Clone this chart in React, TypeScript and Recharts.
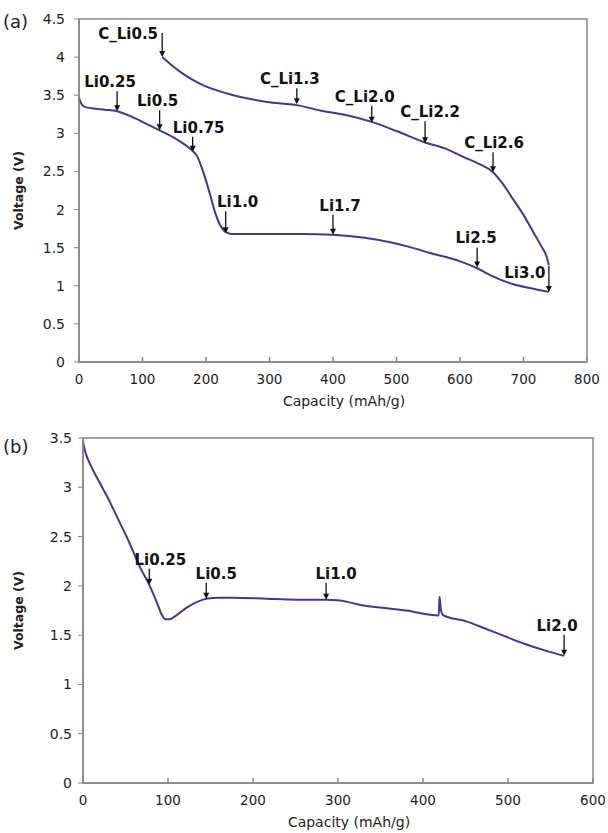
import { LineChart, Line, XAxis, YAxis, ReferenceDot, ReferenceArea } from 'recharts'

// (a) discharge curve
const capA1 = [0, 3, 8, 20, 40, 60, 80, 100, 127, 150, 170, 180, 186, 192, 200, 207, 214, 222, 230, 240, 300, 350, 400, 450, 490, 520, 553, 600, 627, 650, 684, 710, 740]
const voltA1 = [3.47, 3.4, 3.35, 3.33, 3.31, 3.29, 3.23, 3.15, 3.04, 2.94, 2.83, 2.76, 2.7, 2.58, 2.38, 2.18, 1.97, 1.8, 1.71, 1.68, 1.68, 1.68, 1.67, 1.63, 1.57, 1.51, 1.43, 1.32, 1.23, 1.13, 1.02, 0.97, 0.92]

// (a) charge curve
const capA2 = [131, 145, 159, 175, 191, 215, 243, 270, 296, 343, 380, 420, 461, 500, 545, 580, 605, 630, 652, 668, 684, 700, 715, 728, 736, 740]
const voltA2 = [4.0, 3.9, 3.81, 3.72, 3.65, 3.57, 3.5, 3.45, 3.41, 3.37, 3.3, 3.24, 3.15, 3.03, 2.88, 2.79, 2.69, 2.6, 2.49, 2.33, 2.13, 1.93, 1.71, 1.52, 1.39, 1.27]

// (b) discharge curve
const capB = [0, 3, 6, 12, 20, 30, 40, 55, 67, 78, 87, 92, 97, 102, 108, 122, 135, 145, 160, 176, 216, 250, 286, 300, 315, 330, 349, 380, 418.5, 419.5, 421, 424, 451, 475, 496, 520, 545, 566]
const voltB = [3.46, 3.35, 3.28, 3.17, 3.04, 2.88, 2.7, 2.43, 2.19, 2.01, 1.83, 1.72, 1.66, 1.66, 1.69, 1.78, 1.84, 1.87, 1.88, 1.88, 1.87, 1.86, 1.86, 1.855, 1.83, 1.8, 1.78, 1.75, 1.7, 1.89, 1.76, 1.7, 1.64, 1.56, 1.49, 1.41, 1.34, 1.29]

// annotations (a)
const notesA = ['C_Li0.5', 'Li0.25', 'Li0.5', 'Li0.75', 'Li1.0', 'C_Li1.3', 'C_Li2.0', 'C_Li2.2', 'C_Li2.6', 'Li1.7', 'Li2.5', 'Li3.0']
const noteCapA = [131, 60, 127, 179, 231, 343, 461, 545, 652, 400, 627, 740]
const noteVoltA = [4.0, 3.29, 3.04, 2.76, 1.69, 3.38, 3.14, 2.87, 2.49, 1.67, 1.24, 0.92]

// annotations (b)
const notesB = ['Li0.25', 'Li0.5', 'Li1.0', 'Li2.0']
const noteCapB = [78, 145, 286, 566]
const noteVoltB = [2.01, 1.87, 1.86, 1.29]

const xTicksA = [0, 100, 200, 300, 400, 500, 600, 700, 800]
const yTicksA = [0, 0.5, 1, 1.5, 2, 2.5, 3, 3.5, 4, 4.5]
const xTicksB = [0, 100, 200, 300, 400, 500, 600]
const yTicksB = [0, 0.5, 1, 1.5, 2, 2.5, 3, 3.5]

// arrow layout: [arrow length, label dx, label dy (baseline from arrow top)]
const layoutA = [
  [24, -34, 6],
  [20, -7, -4],
  [20, -2, -4],
  [15, 6, -4],
  [22, 12, -4],
  [16, -7, -4],
  [17, -7, -4],
  [22, 5, -4],
  [20, 1, -4],
  [20, 7, -4],
  [20, -1, -4],
  [26, -24, 12],
]
const layoutB = [
  [16, 11, -4],
  [16, 10, -4],
  [17, 10, -4],
  [21, -7, -4],
]

const LINE = '#3b3a96'
const AXIS = '#878787'
const TEXT = '#222'

const zip = (xs: number[], ys: number[]) => xs.map((c, i) => ({ cap: c, v: ys[i] }))

const XTick = ({ x, y, payload }: any) => (
  <g>
    <line x1={x} x2={x} y1={y} y2={y - 5} stroke={AXIS} strokeWidth={1.5} />
    <text x={x} y={y + 22} textAnchor="middle" fontSize={13.5} fill={TEXT}>
      {payload.value}
    </text>
  </g>
)

const arrowShape = (text: string, lay: number[]) => (p: any) => {
  const { cx, cy } = p
  const [len, dx, dy] = lay
  const top = cy - len
  return (
    <g>
      <line x1={cx} x2={cx} y1={top} y2={cy - 5} stroke="#111" strokeWidth={1.3} />
      <path d={`M${cx - 3},${cy - 6} L${cx + 3},${cy - 6} L${cx},${cy} Z`} fill="#111" />
      <text x={cx + dx} y={top + dy} textAnchor="middle" fontSize={15} fontWeight="bold" fill="#111">
        {text}
      </text>
    </g>
  )
}

const yTitle = (panel: string, panelDy: number) => (p: any) => {
  const { x, y, height } = p.viewBox
  const cy = y + height / 2
  const tx = x + 18
  return (
    <g>
      <text x={tx} y={cy} transform={`rotate(-90 ${tx} ${cy})`} textAnchor="middle" dominantBaseline="central" fontSize={12.5} fontWeight="bold" fill={TEXT}>
        Voltage (V)
      </text>
      <text x={x + 3} y={y + panelDy} fontSize={18} fill={TEXT}>
        {panel}
      </text>
    </g>
  )
}

const xTitle = (p: any) => {
  const { x, y, width } = p.viewBox
  return (
    <text x={x + width / 2 + 11} y={y + 44} textAnchor="middle" fontSize={14} fill={TEXT}>
      Capacity (mAh/g)
    </text>
  )
}

export default function App() {
  const a1 = zip(capA1, voltA1)
  const a2 = zip(capA2, voltA2)
  const b = zip(capB, voltB)
  return (
    <div style={{ position: 'absolute', left: 0, top: 0, width: 608, height: 833, background: '#fff', fontFamily: '"DejaVu Sans", sans-serif' }}>
      <LineChart width={608} height={410} margin={{ top: 19, right: 21, bottom: 0, left: 0 }}>
        <XAxis
          type="number"
          dataKey="cap"
          domain={[0, 800]}
          ticks={xTicksA}
          axisLine={{ stroke: AXIS, strokeWidth: 1.5 }}
          tickLine={false}
          tickSize={0}
          tickMargin={0}
          tick={<XTick />}
          height={48}
          label={xTitle}
        />
        <YAxis
          type="number"
          dataKey="v"
          domain={[0, 4.5]}
          ticks={yTicksA}
          width={79}
          axisLine={{ stroke: AXIS, strokeWidth: 1.5 }}
          tickLine={{ stroke: AXIS }}
          tickSize={5}
          tickMargin={9}
          tick={{ fontSize: 14, fill: TEXT }}
          label={yTitle('(a)', 9)}
        />
        <ReferenceArea x1={0} x2={800} y1={0} y2={4.5} fill="none" fillOpacity={0} stroke={AXIS} strokeWidth={1.5} />
        <Line data={a1} dataKey="v" type="monotone" stroke={LINE} strokeWidth={2} dot={false} isAnimationActive={false} />
        <Line data={a2} dataKey="v" type="monotone" stroke={LINE} strokeWidth={2} dot={false} isAnimationActive={false} />
        {notesA.map((t, i) => (
          <ReferenceDot key={t + i} x={noteCapA[i]} y={noteVoltA[i]} r={0} shape={arrowShape(t, layoutA[i])} />
        ))}
      </LineChart>
      <LineChart width={608} height={423} margin={{ top: 28, right: 15, bottom: 0, left: 0 }}>
        <XAxis
          type="number"
          dataKey="cap"
          domain={[0, 600]}
          ticks={xTicksB}
          axisLine={{ stroke: AXIS, strokeWidth: 1.5 }}
          tickLine={false}
          tickSize={0}
          tickMargin={0}
          tick={<XTick />}
          height={50}
          label={xTitle}
        />
        <YAxis
          type="number"
          dataKey="v"
          domain={[0, 3.5]}
          ticks={yTicksB}
          width={83}
          axisLine={{ stroke: AXIS, strokeWidth: 1.5 }}
          tickLine={{ stroke: AXIS }}
          tickSize={5}
          tickMargin={6}
          tick={{ fontSize: 14, fill: TEXT }}
          label={yTitle('(b)', 15)}
        />
        <ReferenceArea x1={0} x2={600} y1={0} y2={3.5} fill="none" fillOpacity={0} stroke={AXIS} strokeWidth={1.5} />
        <Line data={b} dataKey="v" type="monotone" stroke={LINE} strokeWidth={2} dot={false} isAnimationActive={false} />
        {notesB.map((t, i) => (
          <ReferenceDot key={t + i} x={noteCapB[i]} y={noteVoltB[i]} r={0} shape={arrowShape(t, layoutB[i])} />
        ))}
      </LineChart>
    </div>
  )
}
